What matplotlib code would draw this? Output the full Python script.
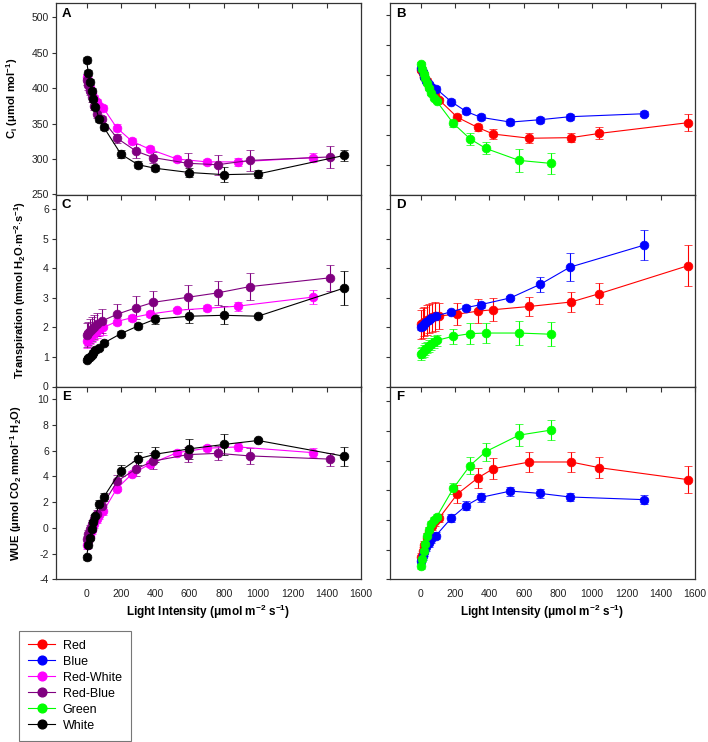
import matplotlib
matplotlib.use("Agg")
import matplotlib.pyplot as plt
from matplotlib.lines import Line2D

plt.rcParams['font.family'] = ['Liberation Sans', 'DejaVu Sans']
plt.rcParams['axes.unicode_minus'] = False
plt.rcParams['mathtext.fontset'] = 'custom'
plt.rcParams['mathtext.rm'] = 'Liberation Sans:bold'
plt.rcParams['mathtext.it'] = 'Liberation Sans:bold'
plt.rcParams['mathtext.bf'] = 'Liberation Sans:bold'
plt.rcParams['mathtext.default'] = 'rm'

# ---------------- data ----------------
red_x = [0, 10, 20, 35, 50, 65, 80, 107, 213, 332, 423, 634, 876, 1040, 1559]
red_ci = [408, 403, 397, 390, 382, 374, 366, 358, 329, 312, 301, 294, 295, 302, 320]
red_ci_err = [4, 4, 4, 4, 4, 4, 4, 4, 6, 6, 8, 8, 8, 10, 14]
red_tr = [2.10, 2.15, 2.20, 2.25, 2.30, 2.34, 2.37, 2.39, 2.45, 2.55, 2.60, 2.71, 2.86, 3.14, 4.09]
red_tr_err = [0.5, 0.5, 0.5, 0.5, 0.5, 0.5, 0.5, 0.45, 0.38, 0.4, 0.38, 0.33, 0.33, 0.35, 0.7]
red_wue = [-2.5, -2.1, -1.7, -1.2, -0.8, -0.4, -0.1, 0.13, 1.75, 2.83, 3.46, 3.91, 3.91, 3.53, 2.72]
red_wue_err = [0.3, 0.3, 0.3, 0.3, 0.3, 0.3, 0.3, 0.3, 0.6, 0.7, 0.7, 0.7, 0.7, 0.7, 0.9]

blue_x = [0, 10, 20, 30, 45, 60, 88, 178, 263, 349, 523, 697, 870, 1305]
blue_ci = [411, 404, 397, 390, 384, 380, 377, 355, 339, 329, 321, 325, 330, 335]
blue_ci_err = [4, 4, 4, 4, 4, 4, 4, 4, 4, 5, 5, 5, 5, 4]
blue_tr = [2.00, 2.06, 2.12, 2.18, 2.25, 2.32, 2.39, 2.53, 2.67, 2.77, 3.00, 3.46, 4.04, 4.79]
blue_tr_err = [0.08, 0.08, 0.08, 0.08, 0.08, 0.08, 0.08, 0.06, 0.08, 0.1, 0.06, 0.25, 0.48, 0.5]
blue_wue = [-2.75, -2.45, -2.15, -1.85, -1.55, -1.3, -1.05, 0.13, 0.96, 1.52, 1.95, 1.79, 1.55, 1.37]
blue_wue_err = [0.25, 0.25, 0.25, 0.25, 0.25, 0.25, 0.25, 0.3, 0.3, 0.3, 0.3, 0.3, 0.3, 0.3]

rw_x = [0, 10, 20, 30, 45, 60, 75, 98, 176, 265, 367, 527, 703, 882, 1323]
rw_ci = [415, 408, 400, 393, 386, 380, 375, 372, 344, 325, 314, 300, 296, 296, 302]
rw_ci_err = [5, 5, 5, 5, 4, 4, 4, 4, 5, 4, 4, 4, 4, 6, 6]
rw_tr = [1.55, 1.62, 1.68, 1.75, 1.82, 1.88, 1.95, 2.00, 2.20, 2.33, 2.45, 2.58, 2.65, 2.72, 3.03]
rw_tr_err = [0.25, 0.25, 0.25, 0.25, 0.25, 0.25, 0.25, 0.25, 0.12, 0.1, 0.1, 0.08, 0.1, 0.15, 0.25]
rw_wue = [-1.35, -1.0, -0.6, -0.2, 0.3, 0.7, 1.0, 1.3, 3.05, 4.2, 4.95, 5.85, 6.2, 6.3, 5.85]
rw_wue_err = [0.3, 0.3, 0.3, 0.3, 0.3, 0.3, 0.3, 0.3, 0.2, 0.2, 0.2, 0.2, 0.25, 0.3, 0.35]

rb_x = [0, 10, 20, 30, 45, 60, 90, 180, 290, 390, 590, 765, 950, 1420]
rb_ci = [412, 404, 396, 387, 375, 364, 356, 329, 311, 302, 294, 292, 298, 303]
rb_ci_err = [8, 6, 6, 6, 6, 6, 5, 7, 10, 8, 14, 14, 15, 15]
rb_tr = [1.75, 1.80, 1.87, 1.95, 2.02, 2.10, 2.22, 2.45, 2.67, 2.85, 3.02, 3.17, 3.38, 3.68]
rb_tr_err = [0.4, 0.4, 0.4, 0.4, 0.4, 0.4, 0.4, 0.35, 0.4, 0.4, 0.4, 0.4, 0.45, 0.45]
rb_wue = [-0.9, -0.5, -0.1, 0.3, 0.7, 1.1, 1.7, 3.65, 4.6, 5.2, 5.7, 5.8, 5.6, 5.35]
rb_wue_err = [0.3, 0.3, 0.3, 0.3, 0.3, 0.3, 0.3, 0.5, 0.6, 0.6, 0.6, 0.55, 0.6, 0.5]

green_x = [0, 8, 16, 25, 35, 45, 60, 75, 92, 189, 287, 379, 573, 759]
green_ci = [418, 410, 402, 394, 386, 378, 370, 362, 356, 319, 293, 277, 257, 252]
green_ci_err = [3, 3, 3, 3, 3, 3, 3, 3, 3, 6, 10, 10, 19, 18]
green_tr = [1.10, 1.15, 1.20, 1.26, 1.32, 1.38, 1.44, 1.50, 1.56, 1.70, 1.79, 1.81, 1.81, 1.77]
green_tr_err = [0.2, 0.2, 0.2, 0.2, 0.2, 0.2, 0.2, 0.2, 0.2, 0.25, 0.35, 0.35, 0.4, 0.4]
green_wue = [-3.1, -2.6, -2.1, -1.6, -1.1, -0.7, -0.3, 0.0, 0.2, 2.13, 3.67, 4.61, 5.72, 6.06]
green_wue_err = [0.2, 0.2, 0.2, 0.2, 0.2, 0.2, 0.2, 0.2, 0.2, 0.35, 0.6, 0.6, 0.75, 0.7]

w_x = [0, 10, 20, 30, 40, 50, 75, 100, 200, 300, 400, 600, 800, 1000, 1500]
w_ci = [440, 421, 409, 396, 384, 374, 356, 345, 307, 292, 287, 281, 278, 279, 305]
w_ci_err = [4, 4, 4, 4, 4, 4, 4, 4, 6, 5, 4, 7, 11, 6, 8]
w_tr = [0.90, 0.95, 1.00, 1.07, 1.14, 1.22, 1.30, 1.47, 1.79, 2.05, 2.28, 2.38, 2.41, 2.38, 3.33]
w_tr_err = [0.08, 0.08, 0.08, 0.08, 0.08, 0.08, 0.08, 0.08, 0.08, 0.1, 0.15, 0.23, 0.3, 0.05, 0.58]
w_wue = [-2.28, -1.37, -0.75, -0.1, 0.45, 0.89, 1.88, 2.4, 4.46, 5.37, 5.73, 6.15, 6.49, 6.8, 5.58]
w_wue_err = [0.2, 0.2, 0.2, 0.2, 0.2, 0.2, 0.3, 0.3, 0.4, 0.5, 0.6, 0.8, 0.8, 0.15, 0.75]

legend_labels = ['Red', 'Blue', 'Red-White', 'Red-Blue', 'Green', 'White']
colors = {'Red': '#ff0000', 'Blue': '#0000ff', 'Red-White': '#ff00ff',
          'Red-Blue': '#800080', 'Green': '#00ff00', 'White': '#000000'}

x_ticks = [0, 200, 400, 600, 800, 1000, 1200, 1400, 1600]

# ---------------- figure ----------------
fig = plt.figure(figsize=(7.08, 7.42), dpi=100)
W, H = 708, 742

def add_ax(l, r, t, b):
    return fig.add_axes([l / W, 1 - b / H, (r - l) / W, (b - t) / H])

rows = [(3, 194.5), (194.5, 386.5), (386.5, 579.3)]
left_cols = (55.7, 361)
right_cols = (390, 695)

axes = {}
for i, key in enumerate(['A', 'C', 'E']):
    axes[key] = add_ax(left_cols[0], left_cols[1], rows[i][0], rows[i][1])
for i, key in enumerate(['B', 'D', 'F']):
    axes[key] = add_ax(right_cols[0], right_cols[1], rows[i][0], rows[i][1])

ms = 6.3
cap = 3.2
lw = 0.8

def series(ax, x, y, e, name):
    c = colors[name]
    ax.errorbar(x, y, yerr=e, color=c, marker='o', markersize=ms, lw=lw,
                elinewidth=lw, capsize=cap, capthick=lw, markeredgewidth=0.5,
                markeredgecolor=c, markerfacecolor=c, zorder=3)

# left panels
series(axes['A'], rw_x, rw_ci, rw_ci_err, 'Red-White')
series(axes['A'], rb_x, rb_ci, rb_ci_err, 'Red-Blue')
series(axes['A'], w_x, w_ci, w_ci_err, 'White')
series(axes['C'], rw_x, rw_tr, rw_tr_err, 'Red-White')
series(axes['C'], rb_x, rb_tr, rb_tr_err, 'Red-Blue')
series(axes['C'], w_x, w_tr, w_tr_err, 'White')
series(axes['E'], rw_x, rw_wue, rw_wue_err, 'Red-White')
series(axes['E'], rb_x, rb_wue, rb_wue_err, 'Red-Blue')
series(axes['E'], w_x, w_wue, w_wue_err, 'White')

# right panels
series(axes['B'], red_x, red_ci, red_ci_err, 'Red')
series(axes['B'], blue_x, blue_ci, blue_ci_err, 'Blue')
series(axes['B'], green_x, green_ci, green_ci_err, 'Green')
series(axes['D'], red_x, red_tr, red_tr_err, 'Red')
series(axes['D'], blue_x, blue_tr, blue_tr_err, 'Blue')
series(axes['D'], green_x, green_tr, green_tr_err, 'Green')
series(axes['F'], red_x, red_wue, red_wue_err, 'Red')
series(axes['F'], blue_x, blue_wue, blue_wue_err, 'Blue')
series(axes['F'], green_x, green_wue, green_wue_err, 'Green')

ylims = {'A': (250, 520), 'B': (200, 520), 'C': (0, 6.5), 'D': (0, 6.5),
         'E': (-4, 11), 'F': (-4, 9)}
yticks = {'A': [250, 300, 350, 400, 450, 500], 'B': [250, 300, 350, 400, 450, 500],
          'C': [0, 1, 2, 3, 4, 5, 6], 'D': [0, 1, 2, 3, 4, 5, 6],
          'E': [-4, -2, 0, 2, 4, 6, 8, 10], 'F': [-4, -2, 0, 2, 4, 6, 8]}

for key, ax in axes.items():
    ax.set_xlim(-180, 1600)
    ax.set_ylim(*ylims[key])
    ax.set_yticks(yticks[key])
    ax.set_xticks(x_ticks)
    for s in ax.spines.values():
        s.set_color('#333333')
        s.set_linewidth(0.9)
    ax.tick_params(axis='x', which='both', top=True, bottom=False, direction='in',
                   length=3.5, width=0.8, color='#333333',
                   labelbottom=key in ('E', 'F'), labeltop=False,
                   labelsize=7.5, labelcolor='#222222', pad=7)
    ax.tick_params(axis='y', direction='out', length=3, width=0.8, color='#333333',
                   labelleft=key in ('A', 'C', 'E'), labelsize=7.5,
                   labelcolor='#222222', pad=2)
    ax.text(0.02, 0.975, key, transform=ax.transAxes, fontsize=9.5,
            fontweight='bold', va='top', ha='left')

ylabel_kw = dict(fontsize=8, fontweight='bold')
axes['A'].set_ylabel(r'C$_{i}$ ($\mu$mol mol$^{-1}$)', **ylabel_kw)
axes['C'].set_ylabel(r'Transpiration (mmol H$_{2}$O$\cdot$m$^{-2}$$\cdot$s$^{-1}$)', **ylabel_kw)
axes['E'].set_ylabel(r'WUE ($\mu$mol CO$_{2}$ mmol$^{-1}$ H$_{2}$O)', **ylabel_kw)
for key, xx in (('A', -0.117), ('C', -0.09), ('E', -0.105)):
    axes[key].yaxis.set_label_coords(xx, 0.5)

for key in ('E', 'F'):
    axes[key].set_xlabel(r'Light Intensity ($\mu$mol m$^{-2}$ s$^{-1}$)',
                         fontsize=8.5, fontweight='bold', labelpad=3)

handles = [Line2D([0], [0], color=colors[n], marker='o', markersize=ms, lw=lw)
           for n in legend_labels]
leg = fig.legend(handles, legend_labels, loc='upper left',
                 bbox_to_anchor=(19 / W, 1 - 631 / H), fontsize=9,
                 frameon=True, fancybox=False, edgecolor='#555555',
                 handlelength=2.2, labelspacing=0.32, borderpad=0.7,
                 handletextpad=0.6, borderaxespad=0)
leg.get_frame().set_linewidth(0.8)

fig.savefig('out.png', dpi=100)
